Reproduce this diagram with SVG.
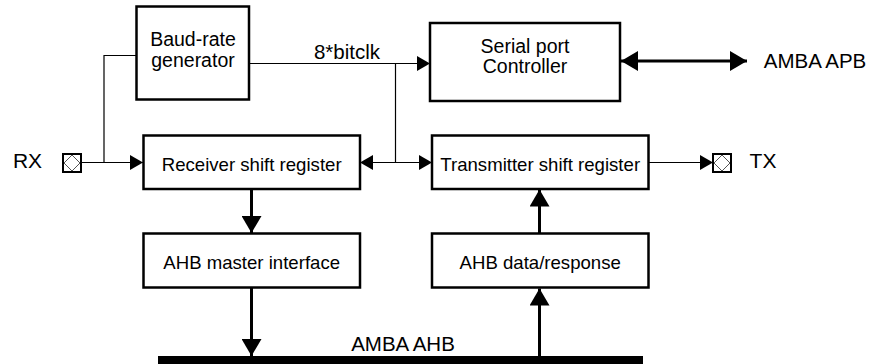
<svg xmlns="http://www.w3.org/2000/svg" width="872" height="364" viewBox="0 0 872 364">
<defs>
<style>
.box{fill:#fff;stroke:#000;stroke-width:2.5}
.thin{fill:none;stroke:#000;stroke-width:1.2}
.thick{fill:none;stroke:#000;stroke-width:3}
.pad{fill:#fff;stroke:#000;stroke-width:2}
.dia{fill:none;stroke:#555;stroke-width:1}
text{font-family:"Liberation Sans",Arial,sans-serif;fill:#000;text-anchor:middle}
.lbl{font-size:18.6px}
.big{font-size:20.5px}
.two{font-size:19.5px}
</style>
<marker id="ah" markerUnits="userSpaceOnUse" markerWidth="13" markerHeight="15" refX="13" refY="7.5" orient="auto-start-reverse">
<path d="M0,0 L13,7.5 L0,15 z" fill="#000"/>
</marker>
<marker id="AH" markerUnits="userSpaceOnUse" markerWidth="17" markerHeight="20" refX="17" refY="10" orient="auto-start-reverse">
<path d="M0,0 L17,10 L0,20 z" fill="#000"/>
</marker>
</defs>
<rect width="872" height="364" fill="#fff"/>

<g id="connectors">
<polyline class="thin" points="136,55.5 104,55.5 104,162.5"/>
<line class="thin" x1="81" y1="162.5" x2="143" y2="162.5" marker-end="url(#ah)"/>
<line class="thin" x1="249" y1="63.5" x2="430" y2="63.5" marker-end="url(#ah)"/>
<line class="thin" x1="395.5" y1="63.5" x2="395.5" y2="162.5"/>
<line class="thin" x1="360" y1="162.5" x2="432" y2="162.5" marker-start="url(#ah)" marker-end="url(#ah)"/>
<line class="thin" x1="649" y1="162.5" x2="713" y2="162.5" marker-end="url(#ah)"/>
<line class="thick" x1="621" y1="61" x2="747" y2="61" marker-start="url(#AH)" marker-end="url(#AH)"/>
<line class="thick" x1="251.5" y1="189" x2="251.5" y2="233" marker-end="url(#AH)"/>
<line class="thick" x1="251.5" y1="288" x2="251.5" y2="356" marker-end="url(#AH)"/>
<line class="thick" x1="539.5" y1="356" x2="539.5" y2="288.5" marker-end="url(#AH)"/>
<line class="thick" x1="539.5" y1="233" x2="539.5" y2="189.5" marker-end="url(#AH)"/>
</g>

<g id="bus">
<rect x="158" y="356" width="485" height="9" fill="#000"/>
<text class="big" x="403" y="351">AMBA AHB</text>
</g>

<g id="baud">
<rect class="box" x="136.5" y="6.5" width="112.5" height="93"/>
<text class="two" x="193" y="46">Baud-rate</text>
<text class="two" x="193" y="66.5">generator</text>
</g>
<text class="big" x="347" y="59">8*bitclk</text>

<g id="serial">
<rect class="box" x="430" y="23" width="190" height="78"/>
<text class="two" x="525" y="52.5">Serial port</text>
<text class="two" x="525" y="73">Controller</text>
</g>
<text class="big" x="815" y="68.3">AMBA APB</text>

<g id="receiver">
<rect class="box" x="143.5" y="135.5" width="216.5" height="53.5"/>
<text class="lbl" x="251.7" y="171">Receiver shift register</text>
</g>

<g id="transmitter">
<rect class="box" x="432" y="135.5" width="216.5" height="53.5"/>
<text class="lbl" x="540.2" y="171">Transmitter shift register</text>
</g>

<g id="ahbmaster">
<rect class="box" x="143.5" y="233.5" width="216.5" height="54"/>
<text class="lbl" x="251.7" y="269.3">AHB master interface</text>
</g>

<g id="ahbdata">
<rect class="box" x="432" y="233.5" width="216.5" height="54"/>
<text class="lbl" x="540.2" y="269.3">AHB data/response</text>
</g>

<g id="rx">
<text class="big" x="27.5" y="168.3" style="font-size:21px">RX</text>
<rect class="pad" x="63" y="154" width="18" height="18"/>
<polygon class="dia" points="72,155 80,163 72,171 64,163"/>
</g>

<g id="tx">
<rect class="pad" x="713" y="154" width="18" height="18"/>
<polygon class="dia" points="722,155 730,163 722,171 714,163"/>
<text class="big" x="763" y="168.3" style="font-size:21px">TX</text>
</g>
</svg>
